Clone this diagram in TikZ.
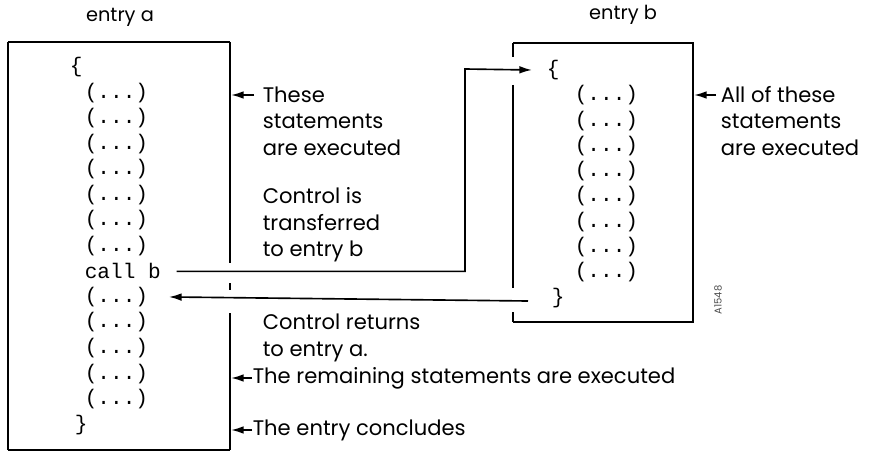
\documentclass[tikz,border=0pt]{standalone}
\usepackage{fontspec}
\setsansfont{Poppins}
\setmonofont{Liberation Mono}
\usetikzlibrary{arrows.meta, positioning, calc}
\tikzset{
  every picture/.style={x=0.03cm, y=-0.03cm, line width=1.4pt},
  code/.style={font=\ttfamily\fontsize{18}{22}\selectfont, inner sep=0pt, anchor=west},
  remark/.style={font=\sffamily\fontsize{18}{22.6}\selectfont, inner sep=0pt, anchor=west, align=left},
  heading/.style={font=\sffamily\fontsize{16.5}{20}\selectfont, inner sep=0pt},
  frame/.style={line width=1.5pt},
  thickside/.style={line width=2.4pt},
  arrow/.style={-{Latex[length=3.8mm, width=2.3mm]}, line width=1.4pt},
}
\begin{document}
\begin{tikzpicture}
  \useasboundingbox (0,0) rectangle (887,451);
  % entry a
  \node[heading] (enta) at (120,17) {entry a};
  \draw[frame] (8,42) -- (230,42);
  \draw[thickside] (8,42) -- (8,450);
  \draw[frame] (8,450) -- (230,450);
  \draw[frame] (230,42) -- (230,263) (230,283) -- (230,290) (230,313) -- (230,450);
  \node[code] (aopen) at (69,67) {\{};
  \foreach \i in {1,...,7} \node[code] (a\i) at (84,{67+25.55*\i}) {(...)};
  \node[code] (callb) at (84,{67+25.55*8}) {call b};
  \foreach \i in {9,...,13} \node[code] (a\i) at (84,{67+25.55*\i}) {(...)};
  \node[code] (aclose) at (74,425) {\}};
  % entry b
  \node[heading] (entb) at (623,15) {entry b};
  \draw[frame] (513,43) -- (693,43) -- (693,322) -- (513,322);
  \draw[thickside] (513,43) -- (513,57) (513,85) -- (513,288) (513,312) -- (513,322);
  \node[code] (bopen) at (546,70) {\{};
  \foreach \i in {1,...,8} \node[code] (b\i) at (574,{70+25.3*\i}) {(...)};
  \node[code] (bclose) at (551,298) {\}};
  % remarks
  \node[remark] (rthese) at (262,121) {These\\statements\\are executed};
  \node[remark] (rtrans) at (262,225) {Control is\\transferred\\to entry b};
  \node[remark] (rret) at (262,338) {Control returns\\to entry a.};
  \node[remark] (rrest) at (252,378) {The remaining statements are executed};
  \node[remark] (rend) at (252,430) {The entry concludes};
  \node[remark] (rall) at (720,121) {All of these\\statements\\are executed};
  \node[font=\sffamily\fontsize{8.5}{9}\selectfont, text=black!70, rotate=90] (fig) at (718,300) {A1548};
  % pointers
  \draw[arrow] (rthese.west |- 0,95) ++(-8,0) -- (231,95);
  \draw[arrow] (rall.west |- 0,95) ++(-4,0) -- (694,95);
  \draw[arrow] (rrest.west) -- (231,378);
  \draw[arrow] (rend.west) -- (231,430);
  % control flow
  \coordinate (turn) at (465,69);
  \coordinate (retstart) at (528,301);
  \draw[arrow] ($(callb.east)+(15,0)$) -| (turn) -- ($(bopen.west)+(-14,0)$);
  \draw[arrow] (retstart) -- ($(a9.east)+(20,0)$);
\end{tikzpicture}
\end{document}
